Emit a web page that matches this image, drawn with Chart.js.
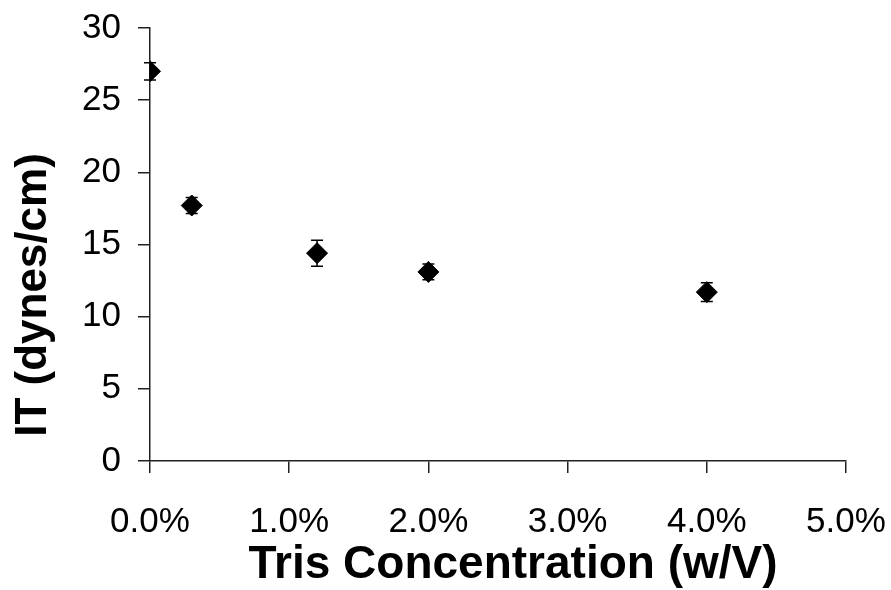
<!DOCTYPE html>
<html>
<head>
<meta charset="utf-8">
<script src="https://cdn.jsdelivr.net/npm/chart.js@4/dist/chart.umd.min.js"></script>
<style>
  html, body { margin: 0; padding: 0; background: #fff; }
  #wrap { width: 891px; height: 590px; }
</style>
</head>
<body>
<div id="wrap"><canvas id="c" width="891" height="590"></canvas></div>
<script>
// Tris concentration (fraction w/V) and measured interfacial tension
const concentrations = [0.0, 0.003, 0.012, 0.020, 0.040];
const tensionMeans   = [27.0, 17.7, 14.4, 13.1, 11.7];
const tensionErrors  = [0.6, 0.55, 0.9, 0.55, 0.65];
const yTicks = [0, 5, 10, 15, 20, 25, 30];
const xTicks = [0, 0.01, 0.02, 0.03, 0.04, 0.05];
const xTitle = 'Tris Concentration (w/V)';
const yTitle = 'IT (dynes/cm)';

const points = concentrations.map((x, i) => ({ x: x, y: tensionMeans[i] }));

const FAMILY = '"Liberation Sans", Arial, sans-serif';

// Vertical error bars with short caps, positioned through the chart scales
const errorBars = {
  id: 'errorBars',
  beforeDatasetsDraw(chart) {
    const { ctx, scales: { x, y } } = chart;
    ctx.save();
    ctx.strokeStyle = '#000';
    ctx.lineWidth = 1.5;
    concentrations.forEach((cx, i) => {
      const px = x.getPixelForValue(cx);
      const top = y.getPixelForValue(tensionMeans[i] + tensionErrors[i]);
      const bot = y.getPixelForValue(tensionMeans[i] - tensionErrors[i]);
      ctx.beginPath();
      ctx.moveTo(px, top); ctx.lineTo(px, bot);
      ctx.moveTo(px - 6, top); ctx.lineTo(px + 6, top);
      ctx.moveTo(px - 6, bot); ctx.lineTo(px + 6, bot);
      ctx.stroke();
    });
    ctx.restore();
  }
};

// Axis titles, placed relative to the plot area
const axisTitles = {
  id: 'axisTitles',
  afterDraw(chart) {
    const { ctx, chartArea } = chart;
    ctx.save();
    ctx.fillStyle = '#000';
    ctx.textAlign = 'center';
    ctx.textBaseline = 'alphabetic';
    ctx.font = 'bold 46px ' + FAMILY;
    ctx.fillText(xTitle, (chartArea.left + chartArea.right) / 2 + 15, chartArea.bottom + 117);
    ctx.font = 'bold 44px ' + FAMILY;
    ctx.translate(chartArea.left - 104, chartArea.top + 267);
    ctx.rotate(-Math.PI / 2);
    ctx.fillText(yTitle, 0, 0);
    ctx.restore();
  }
};

const whiteBg = {
  id: 'whiteBg',
  beforeDraw(chart) {
    const { ctx } = chart;
    ctx.save();
    ctx.fillStyle = '#fff';
    ctx.fillRect(0, 0, chart.width, chart.height);
    ctx.restore();
  }
};

const tickFont = { family: FAMILY, size: 35 };

new Chart(document.getElementById('c'), {
  type: 'scatter',
  data: {
    datasets: [{
      data: points,
      pointStyle: 'rectRot',
      pointRadius: 10.5,
      pointHoverRadius: 10.5,
      backgroundColor: '#000',
      borderColor: '#000',
      borderWidth: 1
    }]
  },
  options: {
    responsive: false,
    animation: false,
    events: [],
    layout: { padding: { top: 28, right: 45, left: 0, bottom: 0 } },
    plugins: { legend: { display: false }, tooltip: { enabled: false } },
    scales: {
      x: {
        type: 'linear',
        min: 0, max: 0.05,
        afterBuildTicks: s => { s.ticks = xTicks.map(v => ({ value: v })); },
        afterFit: s => { s.height = 590 - 461; s.paddingLeft = 0; s.paddingRight = 0; },
        border: { display: true, color: '#222', width: 1.5 },
        grid: { display: true, drawOnChartArea: false, tickLength: 12, tickColor: '#222', lineWidth: 1.5 },
        ticks: {
          color: '#000', font: tickFont, padding: 28, maxRotation: 0,
          callback: v => (v * 100).toFixed(1) + '%'
        }
      },
      y: {
        type: 'linear',
        min: 0, max: 30,
        afterBuildTicks: s => { s.ticks = yTicks.map(v => ({ value: v })); },
        afterFit: s => { s.width = 150; s.paddingTop = 0; s.paddingBottom = 0; },
        border: { display: true, color: '#222', width: 1.5 },
        grid: { display: true, drawOnChartArea: false, tickLength: 12, tickColor: '#222', lineWidth: 1.5 },
        ticks: { color: '#000', font: tickFont, padding: 17 }
      }
    }
  },
  plugins: [whiteBg, errorBars, axisTitles]
});
</script>
</body>
</html>
